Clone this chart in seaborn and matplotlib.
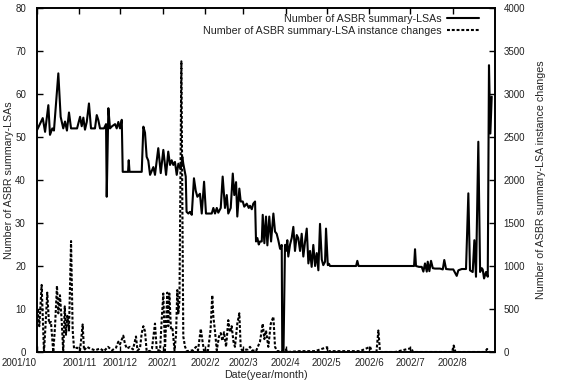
import numpy as np
import pandas as pd
import matplotlib
matplotlib.use("Agg")
import matplotlib.pyplot as plt
import seaborn as sns
from matplotlib.lines import Line2D

# ---- data (days since 2001-10-01) ----
lsa_days = [0, 4.2, 5.9, 8.3, 9.5, 11.2, 12.4, 15.6, 17.3, 19.2, 20.5, 21.9, 23.4, 24.9, 29.3,
            31.5, 32.7, 33.9, 35.1, 36.4, 38.0, 39.5, 42.4, 43.7, 44.8, 46.1, 49.0, 50.5, 51.0,
            52.2, 53.4, 54.9, 57.1, 58.3, 59.5, 60.7, 62.0, 62.7, 66.6, 67.1, 67.7, 76.6, 77.8,
            79.0, 80.2, 81.4, 82.7, 85.1, 86.3, 88.7, 90.5, 92.4, 94.4, 96.0, 97.3, 98.5, 99.7,
            100.9, 102.2, 103.4, 105.1, 106.3, 107.0, 108.8, 109.4, 110.7, 111.9, 113.2, 114.8,
            116.1, 117.3, 119.2, 120.5, 122.2, 123.6, 127.8, 129.0, 130.2, 131.5, 132.6, 134.4,
            135.8, 137.5, 138.8, 139.9, 141.7, 143.2, 144.3, 145.6, 146.5, 148.0, 149.0, 150.5,
            151.6, 153.4, 154.9, 155.8, 157.1, 158.2, 159.5, 160.2, 161.2, 162.2, 163.1, 164.4,
            165.1, 166.3, 167.5, 168.5, 169.9, 171.2, 172.9, 174.1, 175.3, 176.5, 177.8, 179.0,
            179.4, 180.3, 181.4, 182.1, 183.1, 183.8, 185.1, 186.3, 187.5, 188.7, 190.0, 191.1,
            192.4, 193.6, 194.8, 196.0, 197.3, 198.5, 199.7, 200.9, 202.1, 203.4, 204.6, 205.8,
            207.0, 208.3, 209.4, 210.7, 211.4, 212.7, 213.6, 214.3, 233.4, 234.3, 235.2, 275.8,
            276.5, 277.2, 279.4, 281.4, 282.6, 283.8, 285.1, 285.8, 287.0, 288.2, 289.5, 291.1,
            294.8, 296.8, 297.9, 299.2, 302.1, 304.5, 307.0, 308.2, 310.7, 313.8, 315.5, 316.7,
            318.7, 319.9, 321.1, 322.8, 324.1, 325.3, 326.0, 327.0, 328.4, 329.7, 330.6, 331.6,
            332.6]
lsa_vals = [51.6, 54.4, 51.2, 57.4, 50.5, 52, 51.5, 64.8, 54.7, 52, 53.6, 51.5, 55.7, 52, 52,
            54.7, 52.5, 54.5, 51.7, 53.5, 57.8, 52, 52, 55.1, 54, 52, 52, 53, 36.1,
            56.7, 52, 52.5, 53, 52, 53.5, 52, 54, 41.9, 41.9, 44.6, 41.9, 41.9, 52.4,
            51, 45.4, 44.5, 41.2, 43, 41.2, 47.4, 41.6, 47, 41.2, 46.6, 43.5, 44.6, 43.5,
            44.2, 41.2, 43.8, 42.5, 45.4, 43.8, 40.8, 32.6, 32.2, 32.6, 31.9, 40.4,
            37.5, 36.1, 36.8, 32.2, 39.6, 32.2, 32.2, 33.5, 32.2, 33.5, 32.4, 33.5,
            40.8, 33.5, 36.5, 32.2, 33.5, 41.5, 36.5, 39.5, 31.5, 38, 35, 35,
            33.8, 34.5, 33.5, 34, 33.2, 34.5, 35, 25.7, 26.5, 25, 25.7, 25.7,
            31.9, 25.3, 31.5, 24.8, 31.5, 25.7, 32.2, 28, 27.5, 26, 24, 24.9,
            0, 0, 24.9, 23.5, 26, 22.2, 25, 26.5, 29.1, 23.5, 27.2, 26.5,
            23.5, 27.5, 22.2, 25.5, 28.7, 20.6, 23.5, 19.8, 24.9, 20, 23, 19,
            29.8, 21.5, 20.2, 21, 28.7, 20.2, 20.5, 20, 20, 21.2, 20, 20,
            23.9, 20, 19.8, 19.8, 18.7, 20.6, 18.7, 21, 18.8, 21.2, 19.5, 19.4,
            19.4, 19.2, 21.4, 19.3, 19.2, 19.2, 17.7, 19, 19.3, 19.3, 36.9, 19,
            18.6, 26, 17.5, 48.9, 18.6, 19.5, 19.2, 17.1, 18.6, 17.5, 66.7, 50.8,
            59.4]

chg_days = [0, 0.4, 1.7, 3.4, 4.4, 5.1, 6.2, 7.5, 8.8, 10.2, 11.9, 13.2, 14.6, 15.6, 16.8, 18.1,
            19.2, 20.3, 21.2, 22.2, 23.4, 24.9, 26.1, 27.1, 29.3, 31.5, 33.4, 34.4, 36.6, 38.8,
            42.4, 46.1, 49.0, 51.9, 54.9, 57.8, 59.5, 60.7, 63.1, 64.4, 65.8, 68.0, 70.2, 72.4,
            73.5, 75.3, 76.6, 77.8, 79.0, 80.2, 82.7, 84.1, 86.3, 87.6, 90.0, 91.2, 92.4, 93.6,
            95.3, 96.0, 96.8, 98.0, 99.1, 100.6, 101.7, 102.6, 103.4, 104.2, 105.6, 107.0,
            108.3, 109.7, 114.1, 116.3, 117.8, 119.8, 121.1, 122.2, 125.1, 126.9, 128.2, 129.0,
            130.2, 131.5, 133.1, 134.4, 135.6, 136.8, 138.3, 139.9, 141.2, 142.4, 143.7, 144.8,
            146.5, 148.0, 149.0, 150.0, 154.3, 155.8, 157.3, 160.2, 163.1, 165.1, 166.3, 167.5,
            169.2, 171.0, 172.9, 174.1, 175.6, 181.4, 182.1, 182.9, 192.4, 203.4, 211.9, 212.9,
            236.3, 243.6, 245.1, 248.3, 249.7, 250.9, 262.0, 273.8, 275.0, 303.6, 304.8, 306.1,
            327.7, 329.2, 330.6, 332.8]
chg_vals = [340, 500, 300, 780, 300, 0, 300, 690, 330, 350, 0, 300, 770, 450, 660, 350,
            0, 530, 200, 420, 250, 1290, 250, 40, 50, 20, 320, 20, 60, 40,
            20, 40, 10, 60, 20, 50, 120, 90, 190, 90, 40, 60, 30, 180,
            20, 40, 220, 300, 240, 10, 10, 40, 330, 20, 20, 370, 680, 20,
            690, 300, 680, 260, 270, 20, 200, 720, 450, 600, 3380, 180,
            60, 10, 20, 60, 20, 270, 120, 10, 20, 250, 660, 410,
            240, 20, 180, 220, 130, 230, 60, 370, 230, 300, 120, 60,
            330, 450, 50, 20, 30, 60, 20, 10, 120, 330, 150, 250,
            60, 330, 410, 60, 10, 10, 30, 0, 10, 10, 55, 10,
            10, 60, 0, 0, 250, 0, 0, 45, 0, 0, 75, 0,
            0, 35, 0, 0]

month_labels = ["2001/10", "2001/11", "2001/12", "2002/1", "2002/2", "2002/3",
                "2002/4", "2002/5", "2002/6", "2002/7", "2002/8"]
left_ticks = [0, 10, 20, 30, 40, 50, 60, 70, 80]
right_ticks = [0, 500, 1000, 1500, 2000, 2500, 3000, 3500, 4000]

lsa_name = "Number of ASBR summary-LSAs"
chg_name = "Number of ASBR summary-LSA instance changes"

# ---- build ----
base = pd.Timestamp("2001-10-01")
lsa_df = pd.DataFrame({"date": base + pd.to_timedelta(lsa_days, unit="D"), "value": lsa_vals})
chg_df = pd.DataFrame({"date": base + pd.to_timedelta(chg_days, unit="D"), "value": chg_vals})
tick_dates = [pd.to_datetime(m + "/1", format="%Y/%m/%d") for m in month_labels]

sns.set_theme(style="white")
plt.rcParams["font.family"] = ["Liberation Sans", "DejaVu Sans"]
plt.rcParams["text.color"] = "#222222"

fig = plt.figure(figsize=(5.62, 3.8), dpi=100)
ax = fig.add_axes([37 / 562, 1 - 352 / 380, (495 - 37) / 562, (352 - 8) / 380])
ax2 = ax.twinx()

lw = 1.5
dash = (0, (1.4, 0.9))
sns.lineplot(data=lsa_df, x="date", y="value", ax=ax, color="black", linewidth=lw,
             estimator=None, sort=False)
sns.lineplot(data=chg_df, x="date", y="value", ax=ax2, color="black", linewidth=lw,
             estimator=None, sort=False, dashes=False)
ax2.lines[0].set_linestyle(dash)

ax.set_xlim(base, pd.Timestamp("2002-09-01"))
ax.set_ylim(0, 80)
ax2.set_ylim(0, 4000)
ax.set_xticks(tick_dates)
ax.set_xticklabels(month_labels)
ax.get_xticklabels()[0].set_horizontalalignment("right")
ax.set_yticks(left_ticks)
ax2.set_yticks(right_ticks)

fs = 7
lfs = 7.7
ax.tick_params(axis="x", direction="in", top=True, bottom=True, length=4, width=1,
               labelsize=fs, pad=4, colors="black", labelcolor="#222222")
ax.tick_params(axis="y", direction="in", left=True, right=False, length=4, width=1,
               labelsize=fs, pad=8, colors="black", labelcolor="#222222")
ax2.tick_params(axis="y", direction="in", right=True, left=False, length=4, width=1,
                labelsize=fs, pad=6, colors="black", labelcolor="#222222")

for a in (ax, ax2):
    for s in a.spines.values():
        s.set_visible(True)
        s.set_color("black")
        s.set_linewidth(1.2)

ax.set_xlabel("Date(year/month)", fontsize=lfs, labelpad=2)
ax.set_ylabel(lsa_name, fontsize=lfs, labelpad=1)
ax2.set_ylabel(chg_name, fontsize=lfs, labelpad=8)

handles = [Line2D([], [], color="black", linewidth=lw),
           Line2D([], [], color="black", linewidth=lw, linestyle=dash)]
ax2.legend(handles, [lsa_name, chg_name], loc="upper right", frameon=False,
           markerfirst=False, fontsize=lfs, handlelength=3.0, handletextpad=0.5,
           labelspacing=0.2, borderaxespad=0.0, bbox_to_anchor=(0.975, 0.995))

fig.savefig("out.png", dpi=100)
